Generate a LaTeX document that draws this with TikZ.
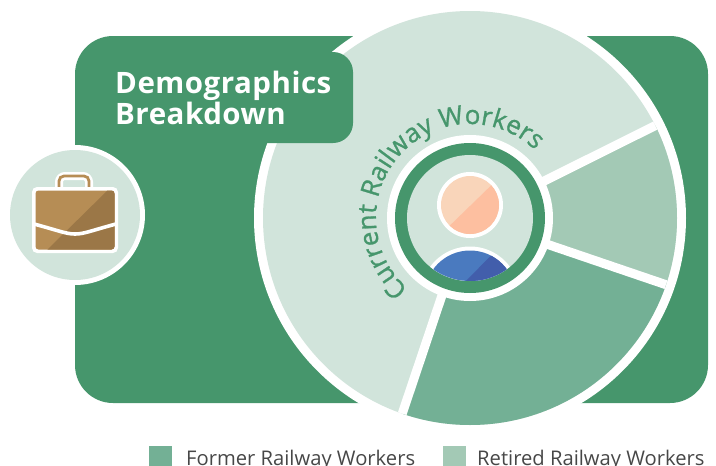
\documentclass[tikz,border=0pt]{standalone}
\usepackage{fontspec}
\setmainfont{Open Sans}
\newfontfamily\curvefont{Open Sans}[FakeBold=1]
\usetikzlibrary{decorations.text}
\definecolor{gmain}{HTML}{46966C}
\definecolor{gformer}{HTML}{73B095}
\definecolor{gretired}{HTML}{A3C9B5}
\definecolor{glight}{HTML}{D1E4DB}
\definecolor{brownA}{HTML}{B68D55}
\definecolor{brownB}{HTML}{9B7747}
\definecolor{skinA}{HTML}{F9D5BA}
\definecolor{skinB}{HTML}{FDBFA0}
\definecolor{blueA}{HTML}{4A7ABF}
\definecolor{blueB}{HTML}{425EAB}
\tikzset{
  titletext/.style={text=white,font=\fontsize{29.5}{31}\selectfont\bfseries\addfontfeatures{LetterSpace=1.7},anchor=base west,inner sep=0pt},
  legendtext/.style={text=black!72,font=\fontsize{20.2}{24}\selectfont,anchor=base west,inner sep=0pt},
  gapline/.style={white,line width=9pt},
}
\begin{document}
\begin{tikzpicture}[x=1pt,y=-1pt]
\useasboundingbox (0,0) rectangle (716,466);
\clip (0,0) rectangle (716,466);
\fill[gmain,rounded corners=38pt] (75,36) rectangle (708,403);
% pie
\fill[white] (470,218) circle[radius=216];
\begin{scope}
\clip (470,218) circle[radius=207];
\fill[glight] (470,218) circle[radius=210];
\fill[gformer] (470,218) -- (780,323.5) -- (780,700) -- (311,685) -- cycle;
\fill[gretired] (470,218) -- (780,63.4) -- (780,323.5) -- cycle;
\draw[gapline] (470,218) -- (780,63.4);
\draw[gapline] (470,218) -- (780,323.5);
\draw[gapline] (468,218) -- (311,685);
\end{scope}
% title tab
\fill[gmain,rounded corners=20pt] (100,52) rectangle (353,143);
\node[titletext] (title1) at (115,93) {Demographics};
\node[titletext] (title2) at (115,124) {Breakdown};
% centre rings
\fill[white] (470,218) circle[radius=83];
\fill[gmain] (470,218) circle[radius=75];
\fill[glight] (470,218) circle[radius=63];
\begin{scope}
\clip (470,218) circle[radius=63];
\fill[white] (470,296) circle[radius=49.5];
\begin{scope}
\clip (470,296) circle[radius=45.5];
\fill[blueA] (420,240) rectangle (520,300);
\fill[blueB] (518,228) -- (465,282) -- (465,300) -- (520,300) -- (520,228) -- cycle;
\end{scope}
\end{scope}
\fill[white] (470,205) circle[radius=33];
\begin{scope}
\clip (470,205) circle[radius=29];
\fill[skinA] (435,170) rectangle (505,240);
\fill[skinB] (505,172) -- (505,240) -- (435,240) -- cycle;
\end{scope}
% curved label
\begin{scope}[shift={(470,218)},x=1pt,y=1pt]
\path[postaction={decorate},decoration={text along path,
  text={|\curvefont\fontsize{26}{26}\selectfont\color{gmain}|Current Railway Workers},
  text align={fit to path}}]
  (229:94) arc[start angle=229,end angle=46,radius=94pt];
\end{scope}
% briefcase badge
\fill[white] (75,215) circle[radius=70];
\fill[glight] (75,215) circle[radius=65];
\draw[white,line width=8pt,rounded corners=6pt] (59,195) -- (59,176) -- (89,176) -- (89,195);
\draw[brownA,line width=2.8pt,rounded corners=5pt] (59,190) -- (59,176) -- (89,176) -- (89,190);
\fill[white,rounded corners=5pt] (32,187) rectangle (118,253);
\begin{scope}
\clip[rounded corners=3pt] (35.5,190.5) rectangle (114.5,249.5);
\fill[brownA] (30,185) rectangle (120,255);
\fill[brownB] (108,190) -- (120,190) -- (120,255) -- (47,255) -- (47,250) -- cycle;
\end{scope}
\draw[white,line width=3.6pt] (34,224) .. controls (60,231) and (66,234) .. (75,234) .. controls (84,234) and (90,231) .. (116,224);
% legend
\fill[gformer] (149,446) rectangle (172,466);
\node[legendtext] (leg1) at (186,465.5) {Former Railway Workers};
\fill[gretired] (443,446) rectangle (466,466);
\node[legendtext] (leg2) at (477,465.5) {Retired Railway Workers};
\end{tikzpicture}
\end{document}
